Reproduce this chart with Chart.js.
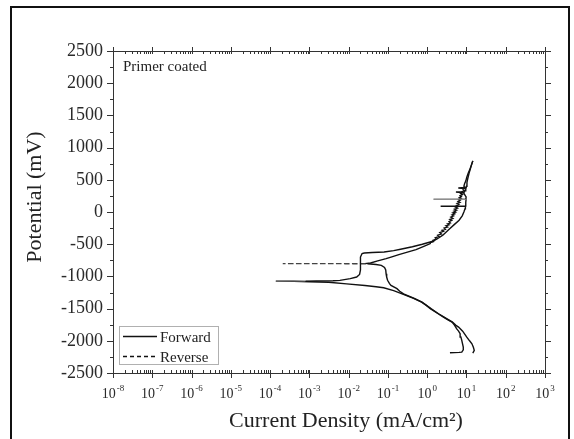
<!DOCTYPE html>
<html>
<head>
<meta charset="utf-8">
<script src="https://cdn.jsdelivr.net/npm/chart.js@4.4.1/dist/chart.umd.min.js"></script>
<style>
  html, body { margin: 0; padding: 0; background: #fff; }
  #wrap { position: relative; width: 574px; height: 439px; }
</style>
</head>
<body>
<div id="wrap"><canvas id="c"></canvas></div>
<script>
// Potentiodynamic polarization scan, primer coated sample.
// Potential in mV, current density in mA/cm².
const forwardE = [
  -2185, -2180, -2176, -2140, -2098, -2040, -1994, -1940, -1890, -1850, -1812, -1760,
  -1709, -1670, -1631, -1580, -1501, -1450, -1400, -1340, -1270, -1220, -1177, -1160,
  -1141, -1116, -1090, -1082, -1076, -1074,
  -1073, -1072, -1068, -1061, -1035, -1010, -970, -900, -801, -700, -672, -645,
  -636, -628, -620, -600, -579, -540, -501, -454, -400, -360, -300, -257,
  -200, -128, -60, 0, 50, 79, 90, 90, 92, 150, 199, 199,
  201, 234, 270, 300, 330, 360, 400, 460, 520, 598, 700, 794
];
const forwardI = [
  3.8, 6.5, 7.6, 8.3, 8.3, 7.9, 7.6, 7.2, 6.9, 6.3, 5.6, 5.0,
  4.3, 3.3, 2.6, 1.9, 1.2, 0.95, 0.72, 0.45, 0.23, 0.14, 0.078, 0.05,
  0.026, 0.0089, 0.0031, 0.001, 0.0004, 0.00014,
  0.0008, 0.0015, 0.004, 0.006, 0.011, 0.016, 0.019, 0.020, 0.020, 0.020, 0.021, 0.022,
  0.025, 0.04, 0.08, 0.14, 0.21, 0.42, 0.75, 1.4, 2.0, 2.5, 3.2, 3.8,
  4.8, 6.5, 7.8, 8.6, 9.2, 9.4, 9.4, 2.2, 9.3, 9.6, 9.8, 1.45,
  9.7, 9.8, 9.0, 8.4, 9.2, 9.6, 10.0, 10.3, 10.8, 11.6, 13.0, 14.5
];

const reverseE = [
  794, 720, 650, 598, 540, 480, 443, 400, 380, 372, 365, 350,
  330, 312, 310, 300, 285, 270, 255, 240, 225, 210, 195, 183,
  165, 150, 135, 120, 105, 90, 75, 60, 45, 30, 15, 0,
  -15, -30, -45, -60, -80, -100, -115, -130, -150, -170, -185, -200,
  -215, -232, -250, -270, -285, -300, -320, -340, -360, -380, -400, -420,
  -440, -460, -475, -490, -530, -584, -620, -662, -700, -724, -760, -792,
  -801, -801, -803, -815, -828, -860, -900, -960, -1010, -1060, -1112, -1141,
  -1190, -1230, -1270, -1340, -1400, -1501, -1580, -1631, -1709, -1760, -1787, -1850,
  -1943, -2000, -2046, -2100, -2149, -2191
];
const reverseI = [
  14.5, 13.2, 12.0, 11.0, 10.2, 9.6, 9.0, 8.6, 9.4, 6.2, 9.0, 8.2,
  8.8, 7.4, 5.4, 8.1, 7.2, 7.9, 6.9, 7.4, 6.6, 7.3, 6.4, 6.9,
  6.1, 6.8, 5.8, 6.4, 5.6, 6.2, 5.3, 5.9, 5.0, 5.6, 4.8, 5.3,
  4.5, 5.0, 4.3, 4.7, 4.0, 4.5, 3.8, 4.2, 3.6, 3.9, 3.3, 3.6,
  3.0, 3.3, 2.7, 2.9, 2.4, 2.6, 2.1, 2.3, 1.85, 2.0, 1.6, 1.7,
  1.4, 1.45, 1.2, 1.2, 0.85, 0.52, 0.33, 0.19, 0.12, 0.09, 0.055, 0.036,
  0.026, 0.00021, 0.03, 0.05, 0.068, 0.082, 0.088, 0.09, 0.093, 0.098, 0.11, 0.12,
  0.17, 0.2, 0.25, 0.47, 0.74, 1.25, 1.95, 2.7, 4.4, 5.4, 6.3, 8.0,
  10.2, 12.0, 13.8, 15.0, 15.8, 14.5
];

// Axis ticks
const decadeExponents = [-8, -7, -6, -5, -4, -3, -2, -1, 0, 1, 2, 3];
const potentialTicks = [-2500, -2000, -1500, -1000, -500, 0, 500, 1000, 1500, 2000, 2500];

const serif = "'Liberation Serif', 'Times New Roman', serif";

const toPoints = (iArr, eArr) => iArr.map((v, k) => ({ x: v, y: eArr[k] }));
const longHorizontal = ctx => Math.abs(ctx.p1.x - ctx.p0.x) > 25 && Math.abs(ctx.p1.y - ctx.p0.y) < 3;

const decorations = {
  id: 'decorations',
  beforeDraw(chart) {
    const ctx = chart.ctx;
    ctx.save();
    ctx.fillStyle = '#fff';
    ctx.fillRect(0, 0, chart.width, chart.height);
    ctx.restore();
  },
  afterDraw(chart) {
    const { ctx, chartArea: a, scales: { x, y } } = chart;
    ctx.save();

    // outer frame
    ctx.strokeStyle = '#111';
    ctx.lineWidth = 2;
    ctx.beginPath();
    ctx.moveTo(11, 445);
    ctx.lineTo(11, 7);
    ctx.lineTo(569, 7);
    ctx.lineTo(569, 445);
    ctx.stroke();

    // plot box
    ctx.strokeStyle = '#333';
    ctx.lineWidth = 1;
    ctx.strokeRect(Math.round(a.left) + 0.5, Math.round(a.top) + 0.5,
                   Math.round(a.right - a.left), Math.round(a.bottom - a.top));

    // potential ticks (left and right, outward)
    ctx.beginPath();
    for (let v = -2500; v <= 2500; v += 250) {
      const py = Math.round(y.getPixelForValue(v)) + 0.5;
      const len = v % 500 === 0 ? 6 : 3;
      ctx.moveTo(a.left, py); ctx.lineTo(a.left - len, py);
      ctx.moveTo(a.right, py); ctx.lineTo(a.right + len, py);
    }
    // current density ticks (bottom and top)
    decadeExponents.forEach(d => {
      const px = Math.round(x.getPixelForValue(Math.pow(10, d))) + 0.5;
      ctx.moveTo(px, a.bottom + 5); ctx.lineTo(px, a.bottom - 3);
      ctx.moveTo(px, a.top - 4); ctx.lineTo(px, a.top + 3);
      if (d < 3) {
        for (let k = 2; k <= 9; k++) {
          const qx = Math.round(x.getPixelForValue(k * Math.pow(10, d))) + 0.5;
          ctx.moveTo(qx, a.bottom); ctx.lineTo(qx, a.bottom - 3);
          ctx.moveTo(qx, a.top); ctx.lineTo(qx, a.top + 3);
        }
      }
    });
    ctx.stroke();

    // decade labels 10^n
    ctx.fillStyle = '#2a2a2a';
    ctx.textBaseline = 'alphabetic';
    decadeExponents.forEach(d => {
      const px = x.getPixelForValue(Math.pow(10, d));
      ctx.font = `14px ${serif}`;
      const base = '10';
      const wb = ctx.measureText(base).width;
      ctx.font = `9px ${serif}`;
      const sup = String(d);
      const ws = ctx.measureText(sup).width;
      const left = px - (wb + 1 + ws) / 2;
      ctx.font = `14px ${serif}`;
      ctx.textAlign = 'left';
      ctx.fillText(base, left, 398);
      ctx.font = `9px ${serif}`;
      ctx.fillText(sup, left + wb + 1, 391);
    });

    // axis titles
    ctx.fillStyle = '#222';
    ctx.font = `22px ${serif}`;
    ctx.textAlign = 'center';
    ctx.textBaseline = 'middle';
    ctx.fillText('Current Density (mA/cm²)', 346, 421);

    ctx.save();
    ctx.translate(35, 197);
    ctx.rotate(-Math.PI / 2);
    ctx.font = `22px ${serif}`;
    ctx.fillText('Potential (mV)', 0, 0);
    ctx.restore();

    // sample label
    ctx.font = `15px ${serif}`;
    ctx.textAlign = 'left';
    ctx.textBaseline = 'alphabetic';
    ctx.fillStyle = '#222';
    ctx.fillText('Primer coated', 123, 70.5);

    // legend
    ctx.strokeStyle = '#b0b0b0';
    ctx.lineWidth = 1;
    ctx.strokeRect(119.5, 326.5, 99, 38);
    ctx.strokeStyle = '#111';
    ctx.lineWidth = 1.3;
    ctx.beginPath();
    ctx.moveTo(123, 336.5); ctx.lineTo(157, 336.5);
    ctx.stroke();
    ctx.setLineDash([4, 3]);
    ctx.beginPath();
    ctx.moveTo(123, 356.5); ctx.lineTo(157, 356.5);
    ctx.stroke();
    ctx.setLineDash([]);
    ctx.fillStyle = '#222';
    ctx.font = `15px ${serif}`;
    ctx.fillText('Forward', 160, 341.5);
    ctx.fillText('Reverse', 160, 361.5);

    ctx.restore();
  }
};

new Chart(document.getElementById('c'), {
  type: 'line',
  data: {
    datasets: [
      {
        label: 'Forward',
        data: toPoints(forwardI, forwardE),
        borderColor: '#111',
        borderWidth: 1.4,
        pointRadius: 0,
        tension: 0,
        segment: {
          borderColor: ctx => longHorizontal(ctx) ? '#777' : undefined,
          borderWidth: ctx => longHorizontal(ctx) ? 0.9 : undefined
        }
      },
      {
        label: 'Reverse',
        data: toPoints(reverseI, reverseE),
        borderColor: '#111',
        borderWidth: 1.4,
        pointRadius: 0,
        tension: 0,
        segment: {
          borderDash: ctx => longHorizontal(ctx) ? [5, 3] : undefined,
          borderColor: ctx => longHorizontal(ctx) ? '#444' : undefined
        }
      }
    ]
  },
  options: {
    responsive: true,
    maintainAspectRatio: false,
    devicePixelRatio: 1,
    animation: false,
    layout: { padding: { top: 51, right: 29, left: 0, bottom: 0 } },
    plugins: { legend: { display: false }, tooltip: { enabled: false } },
    scales: {
      x: {
        type: 'logarithmic',
        min: 1e-8,
        max: 1e3,
        border: { display: false },
        grid: { display: false },
        ticks: { display: false },
        afterFit: s => { s.height = 66; }
      },
      y: {
        type: 'linear',
        min: -2500,
        max: 2500,
        afterBuildTicks: s => { s.ticks = potentialTicks.map(v => ({ value: v })); },
        border: { display: false },
        grid: { display: true, drawOnChartArea: false, drawTicks: false },
        ticks: {
          padding: 10,
          color: '#2a2a2a',
          font: { family: serif, size: 18 },
          callback: v => String(v)
        },
        afterFit: s => { s.width = 113; }
      }
    }
  },
  plugins: [decorations]
});
</script>
</body>
</html>
